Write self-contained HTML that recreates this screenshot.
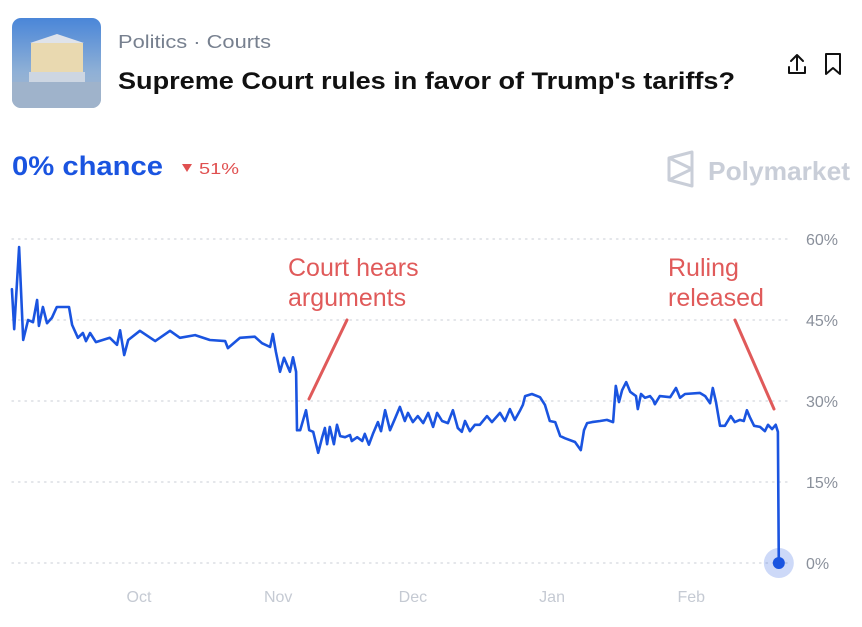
<!DOCTYPE html>
<html><head><meta charset="utf-8"><style>
html,body{margin:0;padding:0;background:#fff;}
svg{display:block;font-family:"Liberation Sans",sans-serif;}
</style></head><body>
<svg id="chart" width="862" height="627" viewBox="0 0 862 627">
<defs>
<linearGradient id="sky" x1="0" y1="0" x2="0" y2="1"><stop offset="0" stop-color="#4a86d8"/><stop offset="0.6" stop-color="#8fb0d6"/><stop offset="1" stop-color="#a9b9cc"/></linearGradient>
<clipPath id="thumbclip"><rect x="12" y="18" width="89" height="90" rx="9"/></clipPath>
</defs>
<g clip-path="url(#thumbclip)">
<rect x="12" y="18" width="89" height="90" fill="url(#sky)"/>
<polygon points="30,43 57,34 84,43" fill="#dfe3ea"/>
<rect x="31" y="43" width="52" height="30" fill="#e9d9b0"/>
<rect x="29" y="72" width="56" height="10" fill="#cdd6e2"/>
<rect x="12" y="82" width="89" height="26" fill="#9fb3cb"/>
</g>
<text x="118" y="48" font-size="18.5" fill="#77808f" textLength="153" lengthAdjust="spacingAndGlyphs">Politics · Courts</text>
<text x="118" y="89" font-size="24" font-weight="bold" fill="#111" textLength="617" lengthAdjust="spacingAndGlyphs">Supreme Court rules in favor of Trump's tariffs?</text>
<g fill="none" stroke="#111" stroke-width="2" stroke-linecap="round" stroke-linejoin="round">
<path d="M797 56 V70 M791 61 L797 55 L803 61 M789 67 V73 H805 V67"/>
</g>
<path d="M826 54 H840 V74 L833 68 L826 74 Z" fill="none" stroke="#111" stroke-width="2" stroke-linejoin="round"/>
<text x="12" y="175" font-size="27" font-weight="bold" fill="#1a54e0" textLength="151" lengthAdjust="spacingAndGlyphs">0% chance</text>
<polygon points="182,164 192,164 187,172" fill="#e05050"/>
<text x="199" y="174" font-size="16" fill="#e05050" textLength="40" lengthAdjust="spacingAndGlyphs">51%</text>
<g>
<path d="M669 158 L692 152 V186 L669 180 Z M669 158 L692 169 L669 180" fill="none" stroke="#c9ced8" stroke-width="3" stroke-linejoin="round"/>
<text x="708" y="180" font-size="26" font-weight="bold" fill="#c9ced8" textLength="142" lengthAdjust="spacingAndGlyphs">Polymarket</text>
</g>
<g id="grid"></g>
<g id="xaxis"></g>
<g id="annotations">
<text x="288" y="276" font-size="25" fill="#e05a5a"><tspan x="288">Court hears</tspan><tspan x="288" y="306">arguments</tspan></text>
<line x1="347" y1="320" x2="309" y2="399" stroke="#e05a5a" stroke-width="3" stroke-linecap="round"/>
<text x="668" y="276" font-size="25" fill="#e05a5a"><tspan x="668">Ruling</tspan><tspan x="668" y="306">released</tspan></text>
<line x1="735" y1="320" x2="774" y2="409" stroke="#e05a5a" stroke-width="3" stroke-linecap="round"/>
</g>
<g id="series"></g>
</svg>
<script>
const days = [-28.3,-27.8,-26.7,-25.8,-24.7,-23.6,-22.7,-22.3,-21.4,-20.5,-19.4,-18.3,-15.6,-14.9,-13.6,-12.5,-11.8,-10.9,-9.6,-6.5,-4.9,-4.2,-3.3,-2.4,0.2,3.6,6.9,9.1,12.5,15.8,19.2,19.8,22.5,25.8,27.4,29.2,29.8,30.5,31.4,32.3,33.6,34.3,35.0,35.2,35.9,37.2,37.9,38.8,39.9,40.8,41.4,41.9,42.5,43.4,44.1,44.8,45.9,47.0,47.4,48.6,49.7,50.3,51.2,52.1,53.2,53.9,54.8,55.9,57.0,58.1,59.2,59.9,61.0,62.1,63.3,64.4,65.5,66.4,67.5,68.8,69.9,71.0,71.9,72.6,73.7,74.8,75.9,77.5,78.6,80.4,81.5,82.6,83.7,84.9,85.5,86.0,87.5,89.3,90.4,91.5,92.7,93.8,94.9,97.1,98.4,99.1,99.8,100.9,102.7,104.2,105.6,106.2,106.9,107.6,108.5,109.4,110.7,111.1,111.8,112.7,113.8,114.5,114.9,116.0,118.3,119.6,120.5,121.6,124.9,126.1,127.2,127.8,128.5,129.4,130.5,131.8,132.7,133.8,134.7,135.4,136.1,137.0,138.3,139.4,140.1,141.0,141.8,142.3,142.5];
const values = [50.7,43.3,58.5,41.3,45.0,44.6,48.7,43.9,47.4,44.4,45.4,47.4,47.4,44.1,41.7,42.6,41.1,42.6,40.9,41.7,40.4,43.1,38.5,41.3,43.0,41.1,43.0,41.7,42.2,41.3,41.1,39.8,41.7,41.9,40.7,40.0,42.4,39.1,35.4,38.0,35.4,38.1,35.4,24.6,24.6,28.3,24.6,24.3,20.4,23.3,25.0,22.0,25.2,22.0,25.6,23.5,23.3,23.7,22.6,23.3,22.6,23.9,21.9,23.9,26.1,24.4,28.3,24.6,26.7,28.9,26.3,27.8,26.1,27.2,25.9,27.8,25.2,27.8,26.3,25.9,28.3,25.0,24.3,26.3,24.4,25.6,25.6,27.2,26.1,27.8,26.3,28.5,26.5,28.3,29.3,30.9,31.3,30.7,29.3,26.3,26.1,23.5,23.1,22.4,20.9,24.6,25.9,26.1,26.3,26.5,26.1,32.8,29.8,32.0,33.5,31.7,30.9,28.5,31.3,30.6,30.9,30.2,29.4,30.9,30.7,32.4,30.6,31.3,31.5,30.9,29.6,32.4,29.8,25.4,25.4,27.2,26.1,26.5,26.3,28.3,26.9,25.4,25.2,24.4,25.6,24.8,25.6,24.3,0];
const yTicks = [0,15,30,45,60];
const yTickLabels = ["0%","15%","30%","45%","60%"];
const monthDays = [0,31,61,92,123];
const monthLabels = ["Oct","Nov","Dec","Jan","Feb"];

const NS = "http://www.w3.org/2000/svg";
function xScale(d){ return 139 + d * 4.49; }
function yScale(v){ return 563 - v * 5.4; }
function mk(tag, attrs, parent){ const e=document.createElementNS(NS,tag); for(const k in attrs) e.setAttribute(k,attrs[k]); parent.appendChild(e); return e; }

const grid = document.getElementById('grid');
yTicks.forEach((t,i)=>{
  const l = mk('line',{x1:12,x2:790,y1:yScale(t),y2:yScale(t),stroke:'#d4d8de','stroke-width':1.3,'stroke-dasharray':'1.5 5','stroke-linecap':'round'},grid);
  
  
  const tx = mk('text',{x:806,y:yScale(t)+6,'font-size':16,fill:'#8a909b'},grid);
  tx.textContent = yTickLabels[i];
  
  
});
const xa = document.getElementById('xaxis');
monthDays.forEach((d,i)=>{
  const tx = mk('text',{x:xScale(d),y:602,'font-size':16,fill:'#c5cad3','text-anchor':'middle'},xa);
  tx.textContent = monthLabels[i];
  
  
});
const s = document.getElementById('series');
const pts = days.map((d,i)=>xScale(d).toFixed(1)+','+yScale(values[i]).toFixed(1)).join(' ');
const line = mk('polyline',{points:pts,fill:'none',stroke:'#1a54e0','stroke-width':2.6,'stroke-linejoin':'round','stroke-linecap':'round'},s);


const lastX = xScale(days[days.length-1]), lastY = yScale(values[values.length-1]);
const halo = mk('circle',{cx:lastX,cy:lastY,r:15,fill:'#1a54e0','fill-opacity':0.22},s);


const dot = mk('circle',{cx:lastX,cy:lastY,r:6,fill:'#1a54e0'},s);


</script>
</body></html>
